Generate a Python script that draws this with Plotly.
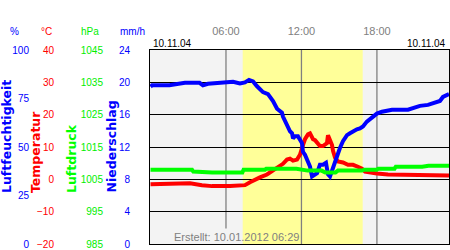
import plotly.graph_objects as go

# ---- data (hours of day 10.11.04) ----
hum_t = [0, 0.12, 1.5, 2.74, 3.9, 4.17, 4.57, 5.92, 6.56, 7.11, 7.51, 7.83, 8.15, 8.47, 8.7, 8.94,
         9.34, 9.5, 9.74, 10.06, 10.45, 10.53, 10.69, 10.85, 10.93, 11.09, 11.25, 11.33, 11.49,
         11.72, 12.04, 12.12, 12.28, 12.44, 12.52, 12.68, 12.84, 13.0, 13.24, 13.47, 13.71,
         13.95, 14.11, 14.27, 14.43, 14.59, 14.83, 15.06, 15.3, 15.62, 15.86, 16.1, 16.41,
         16.65, 16.89, 17.2, 17.6, 18.0, 18.4, 19.2, 20.47, 20.87, 21.42, 22.06, 22.62, 23.01,
         23.25, 23.57, 23.73]
hum_v = [81.1, 81.8, 81.8, 83.1, 83.1, 81.8, 82.6, 83.1, 83.6, 82.8, 83.3, 84.6, 83.8, 81.3,
         79.8, 78.3, 77.3, 75.8, 73.7, 69.7, 67.7, 65.7, 63.6, 61.1, 59.6, 58.1, 57.1, 54.5,
         55.6, 55.6, 52.0, 47.5, 46.0, 43.4, 41.4, 39.9, 34.8, 35.5, 36.5, 40.9, 40.9, 41.9,
         35.9, 34.8, 38.0, 40.9, 44.4, 49.5, 53.0, 56.1, 57.1, 58.1, 59.1, 59.6, 60.6, 63.1,
         65.2, 67.2, 68.2, 69.2, 69.2, 70.2, 71.2, 71.7, 72.7, 73.7, 75.8, 76.8, 77.3]

temp_t = [0, 1.15, 2.19, 3.14, 4.09, 4.89, 6.32, 7.27, 7.51, 7.91, 8.31, 8.7, 9.26, 9.74, 10.3,
          10.53, 10.85, 11.09, 11.33, 11.65, 11.88, 12.04, 12.12, 12.28, 12.52, 12.68, 12.92,
          13.08, 13.32, 13.47, 13.71, 14.03, 14.11, 14.27, 14.43, 14.51, 14.67, 14.9, 15.3,
          15.7, 16.1, 16.49, 16.81, 17.05, 17.45, 18.0, 18.88, 20.23, 21.58, 22.62, 23.73]
temp_v = [-1.5, -1.5, -1.2, -1.2, -1.8, -2.1, -2.1, -2.1, -1.8, -0.9, -0.3, 0.6, 1.5, 2.7, 3.9,
          4.8, 6.1, 6.4, 5.8, 6.1, 7.6, 9.1, 10.6, 12.4, 13.9, 14.2, 12.4, 12.1, 10.9, 10.3,
          10.3, 11.2, 13.6, 12.4, 10.6, 8.8, 6.7, 5.5, 5.2, 4.5, 4.5, 3.9, 3.3, 2.4, 2.1, 1.8,
          1.5, 1.5, 1.2, 1.2, 1.2]

pres_t = [0, 1.0, 1.2, 2.0, 2.3, 3.3, 3.4, 4.9, 7.3, 7.4, 9.1, 9.2, 11.6, 12.2, 12.5, 13.6,
          13.9, 14.7, 14.9, 16.8, 17.0, 18.0, 18.1, 19.4, 19.5, 21.6, 22.1, 23.73]
pres_v = [1008.0, 1008.0, 1008.3, 1008.3, 1008.0, 1008.0, 1007.4, 1007.1, 1007.1, 1008.0,
          1008.0, 1008.3, 1008.3, 1008.0, 1007.7, 1007.7, 1007.1, 1007.1, 1007.7, 1007.7,
          1008.0, 1008.0, 1008.3, 1008.3, 1008.9, 1008.9, 1009.2, 1009.2]

sunrise, sunset = 7.33, 16.87
time_ticks = [6, 12, 18]
time_labels = ["06:00", "12:00", "18:00"]
hum_ticks = [0, 25, 50, 75, 100]
temp_ticks = [-20, -10, 0, 10, 20, 30, 40]
pres_ticks = [985, 995, 1005, 1015, 1025, 1035, 1045]
rain_ticks = [0, 4, 8, 12, 16, 20, 24]
date_label = "10.11.04"
created = "Erstellt: 10.01.2012 06:29"

W, H = 450, 250
L, R, T, B = 0, 1, 50, 2
PW = W - L - R          # 449
PH = H - T - B          # 198
px = lambda x: x / PW
py = lambda y: (T + PH - y) / PH

BLUE = "#0000ff"
RED = "#ff0000"
GREEN = "#00ee00"
GRAY = "#808080"
tickfont = dict(family="Liberation Sans, Arial", size=10)

fig = go.Figure()
fig.add_trace(go.Scatter(x=temp_t, y=temp_v, mode="lines", line=dict(color=RED, width=4),
                         yaxis="y", showlegend=False, hoverinfo="skip"))
fig.add_trace(go.Scatter(x=pres_t, y=pres_v, mode="lines", line=dict(color="#00ff00", width=4),
                         yaxis="y4", showlegend=False, hoverinfo="skip"))
fig.add_trace(go.Scatter(x=hum_t, y=hum_v, mode="lines", line=dict(color=BLUE, width=4),
                         yaxis="y2", showlegend=False, hoverinfo="skip"))
fig.add_trace(go.Scatter(x=[None], y=[None], yaxis="y3", showlegend=False))
fig.add_trace(go.Scatter(x=[None], y=[None], yaxis="y5", showlegend=False))

x0 = 150 / PW
axis_common = dict(showgrid=False, zeroline=False, showline=False, ticks="",
                   overlaying="y", anchor="free", side="left", fixedrange=True,
                   ticklabeloverflow="allow")

fig.update_layout(
    width=W, height=H, margin=dict(l=L, r=R, t=T, b=B),
    paper_bgcolor="white", plot_bgcolor="#f3f3f3",
    xaxis=dict(domain=[x0, 1], range=[-0.04, 23.73], side="top",
               tickvals=time_ticks, ticktext=time_labels, showgrid=False,
               zeroline=False, showline=True, mirror=True, linecolor="black", linewidth=1,
               ticks="", tickfont=dict(family="Liberation Sans, Arial", size=11, color=GRAY),
               ticklabelstandoff=10, fixedrange=True),
    yaxis=dict(range=[temp_ticks[0], temp_ticks[-1]], tickvals=temp_ticks, showgrid=True,
               gridcolor="black", gridwidth=1,
               showticklabels=False, zeroline=False, showline=True, mirror=True,
               linecolor="black", linewidth=1, ticks="", fixedrange=True),
    yaxis2=dict(range=[hum_ticks[0], hum_ticks[-1]], tickvals=hum_ticks, position=px(29),
                tickfont=dict(tickfont, color=BLUE), **axis_common),
    yaxis3=dict(range=[temp_ticks[0], temp_ticks[-1]], tickvals=temp_ticks, position=px(54),
                tickfont=dict(tickfont, color=RED), **axis_common),
    yaxis4=dict(range=[pres_ticks[0], pres_ticks[-1]], tickvals=pres_ticks, position=px(103),
                tickfont=dict(tickfont, color=GREEN), **axis_common),
    yaxis5=dict(range=[rain_ticks[0], rain_ticks[-1]], tickvals=rain_ticks, position=px(130),
                tickfont=dict(tickfont, color=BLUE), **axis_common),
)

shapes = [
    dict(type="rect", xref="x", yref="y domain", x0=sunrise, x1=sunset, y0=0, y1=1,
         fillcolor="#ffff99", line=dict(width=0), layer="below"),
]
for t in time_ticks:
    shapes.append(dict(type="line", xref="x", yref="y domain", x0=t, x1=t,
                       y0=0.08 if t == 6 else 0, y1=1,
                       line=dict(color=GRAY, width=1.3), layer="below"))
fig.update_layout(shapes=shapes)

ann = []
hdr_y = py(31)
for txt, xc, col in [("%", 14, BLUE), ("°C", 46.5, RED), ("hPa", 89.5, GREEN), ("mm/h", 132, BLUE)]:
    ann.append(dict(text=txt, x=px(xc), y=hdr_y, xref="paper", yref="paper", showarrow=False,
                    xanchor="center", yanchor="middle",
                    font=dict(family="Liberation Sans, Arial", size=10, color=col)))
for txt, xc, col in [("Luftfeuchtigkeit", 6.5, BLUE), ("Temperatur", 35, RED),
                     ("Luftdruck", 71.5, "#00ff00"), ("Niederschlag", 111.5, BLUE)]:
    ann.append(dict(text="<b>" + txt + "</b>", x=px(xc), y=py(198), xref="paper", yref="paper",
                    showarrow=False, textangle=-90, xanchor="center", yanchor="bottom",
                    font=dict(family="DejaVu Sans", size=12.5, color=col)))
ann.append(dict(text=date_label, x=px(151), y=py(43.5), xref="paper", yref="paper",
                showarrow=False, xanchor="left", yanchor="middle",
                font=dict(family="Liberation Sans, Arial", size=10, color="black")))
ann.append(dict(text=date_label, x=px(448), y=py(43.5), xref="paper", yref="paper",
                showarrow=False, xanchor="right", yanchor="middle",
                font=dict(family="Liberation Sans, Arial", size=10, color="black")))
ann.append(dict(text=created, x=px(236), y=py(241), xref="paper", yref="paper",
                showarrow=False, xanchor="center", yanchor="middle",
                font=dict(family="Liberation Sans, Arial", size=11, color=GRAY)))
fig.update_layout(annotations=ann)

fig.write_html("out.html", config={"displayModeBar": False})
